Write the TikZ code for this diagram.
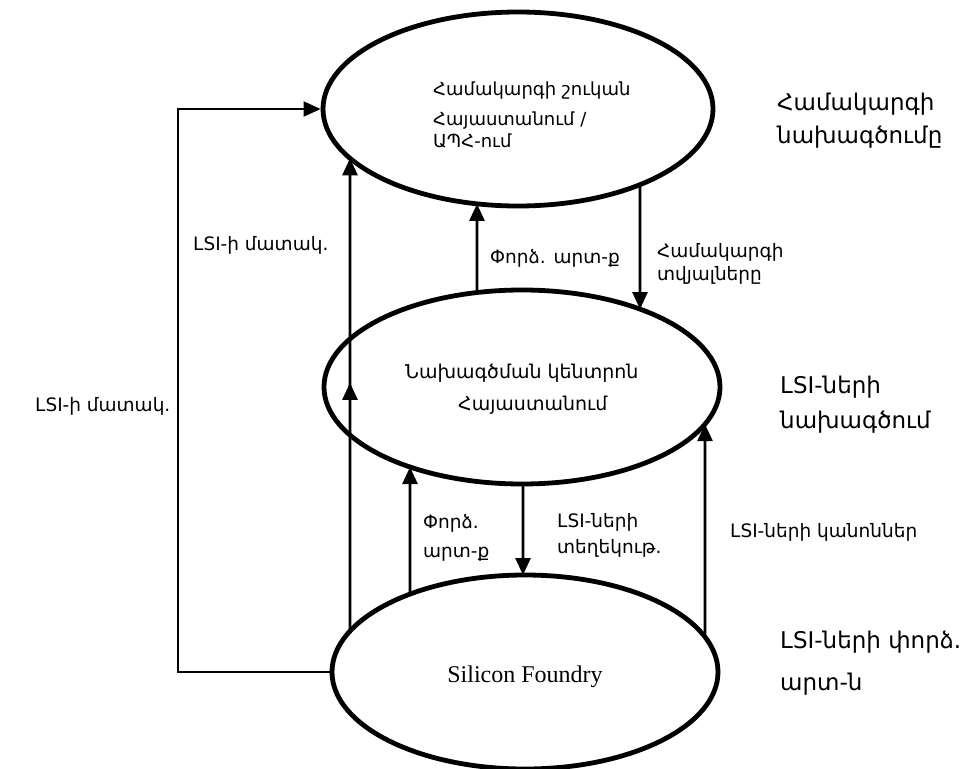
\documentclass[tikz,border=0pt]{standalone}
\usepackage{fontspec}
\setmainfont{DejaVu Sans}
\newfontfamily\timesf{Liberation Serif}
\usetikzlibrary{arrows.meta,shapes.geometric,intersections,decorations.markings}
\begin{document}
\begin{tikzpicture}[x=1pt,y=-1pt,
  oval/.style={draw, ellipse, line width=4.8pt, inner sep=0pt},
  conn/.style={line width=2.6pt, -{Triangle[length=17pt,width=15pt]}},
  loopline/.style={line width=2pt, -{Triangle[length=17pt,width=15pt]}},
  intext/.style={anchor=base west, inner sep=0pt, font=\fontsize{18}{21}\selectfont},
  midtext/.style={anchor=base west, inner sep=0pt, font=\fontsize{19}{22}\selectfont},
  sidetext/.style={anchor=base west, inner sep=0pt, font=\fontsize{23}{27}\selectfont},
  arrtext/.style={anchor=base west, inner sep=0pt, font=\fontsize{18.5}{22}\selectfont}]
\useasboundingbox (0,0) rectangle (963,768);

% ellipses
\node[oval, name path=eT, minimum width=390pt, minimum height=194pt] (top) at (518,109) {};
\node[oval, name path=eM, minimum width=396pt, minimum height=194pt] (mid) at (522,387) {};
\node[oval, name path=eB, minimum width=386pt, minimum height=194pt] (bot) at (525,672) {};

% texts in ellipses
\node[intext] (t1) at (433,95) {Համակարգի շուկան};
\node[intext] (t2) at (433,125) {Հայաստանում /};
\node[intext] (t3) at (433,147) {ԱՊՀ-ում};
\node[midtext] (m1) at (405,378) {Նախագծման կենտրոն};
\node[midtext] (m2) at (458,410) {Հայաստանում};
\node[anchor=base, inner sep=0pt, font=\timesf\fontsize{24}{28}\selectfont] (b1) at (525,682) {Silicon Foundry};

% side labels
\node[sidetext] (s1) at (777,110) {Համակարգի};
\node[sidetext] (s2) at (777,143) {նախագծումը};
\node[sidetext] (s3) at (780,393) {LSI-ների};
\node[sidetext] (s4) at (780,428) {նախագծում};
\node[sidetext] (s5) at (780,648) {LSI-ների փորձ.};
\node[sidetext] (s6) at (780,690) {արտ-ն};

% arrow labels
\node[arrtext] (l1) at (490,263) {Փորձ. արտ-ք};
\node[arrtext] (l2) at (657,257) {Համակարգի};
\node[arrtext] (l3) at (657,280) {տվյալները};
\node[arrtext] (l4) at (193,250) {LSI-ի մատակ.};
\node[arrtext] (l5) at (35,411) {LSI-ի մատակ.};
\node[arrtext] (l6) at (423,528) {Փորձ.};
\node[arrtext] (l7) at (423,557) {արտ-ք};
\node[arrtext] (l8) at (557,527) {LSI-ների};
\node[arrtext] (l9) at (557,553) {տեղեկութ.};
\node[arrtext] (l10) at (730,537) {LSI-ների կանոններ};

% vertical guide paths (invisible)
\path[name path=vA] (350,0) -- (350,768);
\path[name path=vB] (410,0) -- (410,768);
\path[name path=vC] (477,0) -- (477,768);
\path[name path=vD] (640,0) -- (640,768);
\path[name path=vE] (523,0) -- (523,768);
\path[name path=vF] (705,0) -- (705,768);

\path[name intersections={of=vA and eT, sort by=vA, name=aT}];
\path[name intersections={of=vA and eB, sort by=vA, name=aB}];
\path[name intersections={of=vB and eM, sort by=vB, name=bM}];
\path[name intersections={of=vB and eB, sort by=vB, name=bB}];
\path[name intersections={of=vC and eT, sort by=vC, name=cT}];
\path[name intersections={of=vC and eM, sort by=vC, name=cM}];
\path[name intersections={of=vD and eT, sort by=vD, name=dT}];
\path[name intersections={of=vD and eM, sort by=vD, name=dM}];
\path[name intersections={of=vE and eM, sort by=vE, name=eeM}];
\path[name intersections={of=vE and eB, sort by=vE, name=eeB}];
\path[name intersections={of=vF and eM, sort by=vF, name=fM}];
\path[name intersections={of=vF and eB, sort by=vF, name=fB}];

% connectors
\draw[conn, postaction={decorate, decoration={markings,
   mark=at position 0.525 with {\arrow{Triangle[length=17pt,width=15pt]}}}}]
   (aB-1) -- (aT-2);
\draw[conn] (bB-1) -- (bM-2);
\draw[conn] (cM-1) -- (cT-2);
\draw[conn] (dT-2) -- (dM-1);
\draw[conn] (eeM-2) -- (eeB-1);
\draw[conn] (fB-1) -- (fM-2);

\coordinate (cL) at (178,109);
\draw[loopline] (bot.west) -| (cL) -- (top.west);
\end{tikzpicture}
\end{document}
